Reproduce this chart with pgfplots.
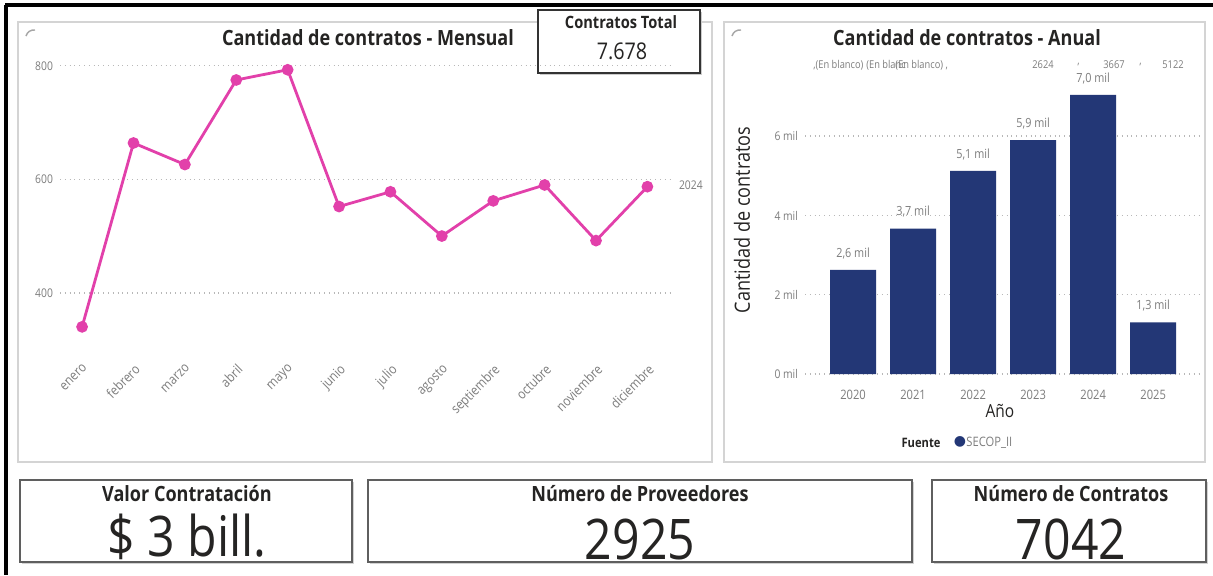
\documentclass[border=0pt]{standalone}
\usepackage{fontspec}
\setmainfont{Open Sans}[FakeStretch=0.86]
\newfontfamily\dejavu{DejaVu Sans}
\usepackage{pgfplots}
\usepackage{pgfplotstable}
\pgfplotsset{compat=1.18}

\definecolor{pinkline}{RGB}{226,64,170}
\definecolor{navybar}{RGB}{35,55,118}
\definecolor{tickgray}{RGB}{125,125,125}
\definecolor{titlegray}{RGB}{37,36,35}
\definecolor{panelgray}{RGB}{212,212,212}
\definecolor{cardgray}{RGB}{95,95,95}
\newcommand\fs[1]{\fontsize{#1}{#1}\selectfont}

% contratos por mes (2024)
\pgfplotstableread{
m v
0 340
1 664
2 626
3 775
4 793
5 552
6 578
7 500
8 562
9 590
10 492
11 587
}\mensual

% contratos por año
\pgfplotstableread{
a v
0 2624
1 3667
2 5122
3 5900
4 7042
5 1300
}\anual

\begin{document}
\begin{tikzpicture}
\begin{scope}[x=0.5pt,y=-0.5pt]
  \fill[white] (0,0) rectangle (1213,575);
  % marco negro
  \draw[black, line width=2pt] (5,5) -- (1213,5);
  \draw[black, line width=2pt] (6,5) -- (6,575);
  % paneles
  \draw[panelgray, line width=0.8pt] (18,22) rectangle (712,462);
  \draw[panelgray, line width=0.8pt] (724,22) rectangle (1205,462);
  % iconos
  \foreach \px/\py in {26/36, 732/36, 28/490, 376/490, 940/490}
    \draw[gray!70, line width=0.7pt] (\px,\py) to[bend left=40] (\px+9,\py-6);
  % titulos
  \node[font=\fs{10.5}\bfseries, text=titlegray] at (368,38) {Cantidad de contratos - Mensual};
  \node[font=\fs{10.5}\bfseries, text=titlegray] at (967,38) {Cantidad de contratos - Anual};
  % contratos total
  \fill[gray!40] (540,12) rectangle (702,75);
  \filldraw[fill=white, draw=black!80, line width=1pt] (538,10) rectangle (700,73);
  \node[font=\fs{8.5}\bfseries, text=titlegray] at (621,22) {Contratos Total};
  \node[font=\fs{11.5}, text=titlegray] at (622,51) {7.678};
  % etiqueta de serie
  \node[font=\fs{6}, text=tickgray, anchor=west] at (672,185) {2024};
  % etiquetas superpuestas
  \begin{scope}[every node/.style={font=\fs{5.4}, text=tickgray, anchor=west, inner sep=0pt}]
    \node at (813,65) {,(En blanco)};
    \node at (866,65) {(En blanc};
    \node at (895,65) {(En blanco) ,};
    \node at (1032,65) {2624};
    \node at (1077,65) {,};
    \node at (1103,65) {3667};
    \node at (1139,65) {,};
    \node at (1162,65) {5122};
  \end{scope}
  % etiquetas de ejes
  \node[font=\fs{10.5}, text=titlegray, rotate=90] at (742,220) {Cantidad de contratos};
  \node[font=\fs{9}, text=titlegray] at (1000,411) {Año};
  \node[font=\fs{6.5}\bfseries, text=titlegray] at (921,443) {Fuente};
  \node[font=\fs{7}\dejavu, text=navybar] at (960,442) {●};
  \node[font=\fs{6.5}, text=tickgray, anchor=west, inner sep=0pt] at (966,443) {SECOP\_II};
  % tarjetas inferiores
  \foreach \xa/\xb in {20/352, 368/912, 932/1206} {
    \fill[gray!35] (\xa+2,482) rectangle (\xb+2,564);
    \filldraw[fill=white, draw=cardgray, line width=1pt] (\xa,480) rectangle (\xb,562);
  }
  \node[font=\fs{10.5}\bfseries, text=titlegray] at (187,494) {Valor Contratación};
  \node[font=\fs{28}, text=titlegray] at (187,537) {\$ 3 bill.};
  \node[font=\fs{10.5}\bfseries, text=titlegray] at (640,494) {Número de Proveedores};
  \node[font=\fs{28}, text=titlegray] at (640,539) {2925};
  \node[font=\fs{10.5}\bfseries, text=titlegray] at (1071,494) {Número de Contratos};
  \node[font=\fs{28}, text=titlegray] at (1071,539) {7042};
\end{scope}

% grafico mensual
\begin{axis}[
  at={(30pt,-172.5pt)}, anchor=south west,
  scale only axis, width=305pt, height=145pt,
  xmin=-0.43, xmax=11.44, ymin=308, ymax=819,
  axis line style={draw=none}, tick style={draw=none},
  ymajorgrids, grid style={tickgray!55, dotted, line width=0.7pt},
  ytick={400,600,800}, yticklabels={400,600,800},
  yticklabel style={font=\fs{6}, text=tickgray},
  xtick={0,...,11},
  xticklabels={enero,febrero,marzo,abril,mayo,junio,julio,agosto,septiembre,octubre,noviembre,diciembre},
  xticklabel style={rotate=45, anchor=north east, font=\fs{6.8}, text=tickgray, xshift=-3pt, yshift=-3pt},
  clip=false,
]
\addplot[pinkline, line width=1.4pt, mark=*, mark size=2.2pt,
  mark options={fill=pinkline, draw=pinkline}] table[x=m, y=v] {\mensual};
\end{axis}

% grafico anual
\begin{axis}[
  at={(402.5pt,-187pt)}, anchor=south west,
  scale only axis, width=197.5pt, height=144.7pt,
  xmin=-0.8, xmax=5.78, ymin=0, ymax=7300,
  ybar, bar width=23pt,
  axis line style={draw=none}, tick style={draw=none},
  ymajorgrids, grid style={tickgray!55, dotted, line width=0.7pt},
  ytick={0,2000,4000,6000}, yticklabels={0 mil,2 mil,4 mil,6 mil},
  yticklabel style={font=\fs{6}, text=tickgray},
  xtick={0,...,5}, xticklabels={2020,2021,2022,2023,2024,2025},
  xticklabel style={font=\fs{6.5}, text=tickgray},
  /pgf/number format/assume math mode=true,
  point meta={y/1000},
  nodes near coords={\pgfmathprintnumber[fixed,fixed zerofill,precision=1,use comma,assume math mode=true]{\pgfplotspointmeta}~mil},
  nodes near coords style={font=\fs{6.3}, text=tickgray, yshift=2pt},
  clip=false,
]
\addplot[fill=navybar, draw=none] table[x=a, y=v] {\anual};
\end{axis}

\pgfresetboundingbox
\path (0pt,0pt) rectangle (606.5pt,-287.5pt);
\end{tikzpicture}
\end{document}
